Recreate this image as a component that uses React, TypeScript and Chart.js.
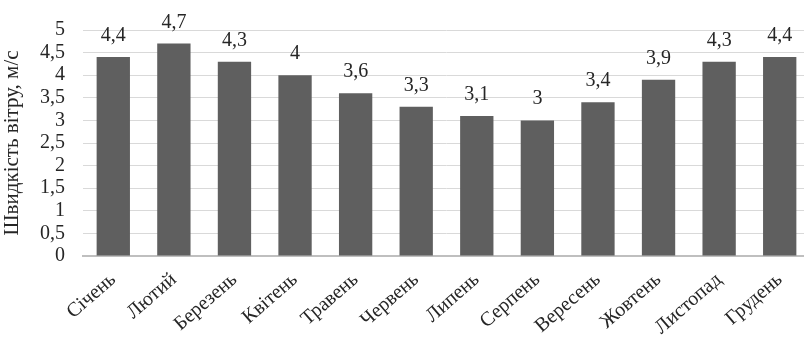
import React, { useEffect, useRef } from "react";
import { Chart, registerables } from "chart.js";

Chart.register(...registerables);

const months = [
  "Січень", "Лютий", "Березень", "Квітень", "Травень", "Червень",
  "Липень", "Серпень", "Вересень", "Жовтень", "Листопад", "Грудень",
];
const windSpeed = [4.4, 4.7, 4.3, 4.0, 3.6, 3.3, 3.1, 3.0, 3.4, 3.9, 4.3, 4.4];
const yTitle = "Швидкість вітру, м/с";

const FONT = '"Times New Roman", "Liberation Serif", serif';
const fmt = (v: number) => String(v).replace(".", ",");

const primeFonts = ['20px "Liberation Serif"', '20px "Times New Roman"', '20px Tinos', '20px serif'];

const labelPlugin = {
  id: "valueLabels",
  afterDatasetsDraw(chart: any) {
    const ctx = chart.ctx;
    const meta = chart.getDatasetMeta(0);
    ctx.save();
    ctx.fillStyle = "#262626";
    ctx.font = `20px ${FONT}`;
    ctx.textAlign = "center";
    ctx.textBaseline = "alphabetic";
    meta.data.forEach((bar: any, i: number) => {
      ctx.fillText(fmt(windSpeed[i]), bar.x, bar.y - 16);
    });
    ctx.restore();
  },
};

export default function App() {
  const ref = useRef<HTMLCanvasElement>(null);
  const ref2 = useRef<HTMLCanvasElement>(null);
  useEffect(() => {
    document.body.style.margin = "0";
    const c2 = ref2.current!.getContext("2d")!;
    c2.fillStyle = "#000";
    primeFonts.forEach((f, i) => {
      c2.font = f;
      c2.fillText("Січень 4,5", 5 + i * 130, 22);
    });
    c2.clearRect(0, 0, 540, 30);
    const chart = new Chart(ref.current!, {
      type: "bar",
      data: {
        labels: months,
        datasets: [
          {
            data: windSpeed,
            backgroundColor: "#5f5f5f",
            barPercentage: 0.55,
            categoryPercentage: 1,
          },
        ],
      },
      options: {
        animation: false,
        responsive: false,
        devicePixelRatio: 1,
        layout: { padding: { top: 28, left: 0, right: 0, bottom: 0 } },
        plugins: { legend: { display: false }, tooltip: { enabled: false } },
        scales: {
          x: {
            grid: { display: false, drawTicks: false },
            border: { display: true, color: "#bfbfbf", width: 2 },
            ticks: {
              color: "#262626",
              font: { family: FONT, size: 20 },
              minRotation: 41,
              maxRotation: 41,
              padding: 12,
              autoSkip: false,
            },
            afterFit(scale: any) {
              scale.height = 342 - 256;
            },
          },
          y: {
            min: 0,
            max: 5,
            grid: { color: "#d9d9d9", lineWidth: 1, drawTicks: false },
            border: { display: false },
            ticks: {
              stepSize: 0.5,
              autoSkip: false,
              color: "#262626",
              font: { family: FONT, size: 20 },
              padding: 18,
              callback: (v: any) => fmt(Number(v)),
            },
            title: {
              display: true,
              text: yTitle,
              color: "#262626",
              font: { family: FONT, size: 21 },
              padding: { top: 0, bottom: 2 },
            },
            afterFit(scale: any) {
              scale.width = 83;
            },
          },
        },
      },
      plugins: [labelPlugin],
    });
    let alive = true;
    const redraw = () => {
      if (alive) chart.update();
    };
    const fonts: any = (document as any).fonts;
    if (fonts && fonts.load) {
      Promise.all(primeFonts.map((f) => fonts.load(f, "Січень 4,5"))).then(redraw, redraw);
    }
    const t1 = setTimeout(redraw, 100);
    const t2 = setTimeout(redraw, 400);
    return () => {
      alive = false;
      clearTimeout(t1);
      clearTimeout(t2);
      chart.destroy();
    };
  }, []);
  return (
    <div style={{ position: "absolute", left: 0, top: 0, width: 804, height: 342, overflow: "hidden", background: "#fff" }}>
      <canvas ref={ref} width={810} height={342} style={{ width: 810, height: 342, display: "block" }} />
      <canvas ref={ref2} width={540} height={30} style={{ position: "absolute", left: 250, top: 160, width: 540, height: 30 }} />
    </div>
  );
}
